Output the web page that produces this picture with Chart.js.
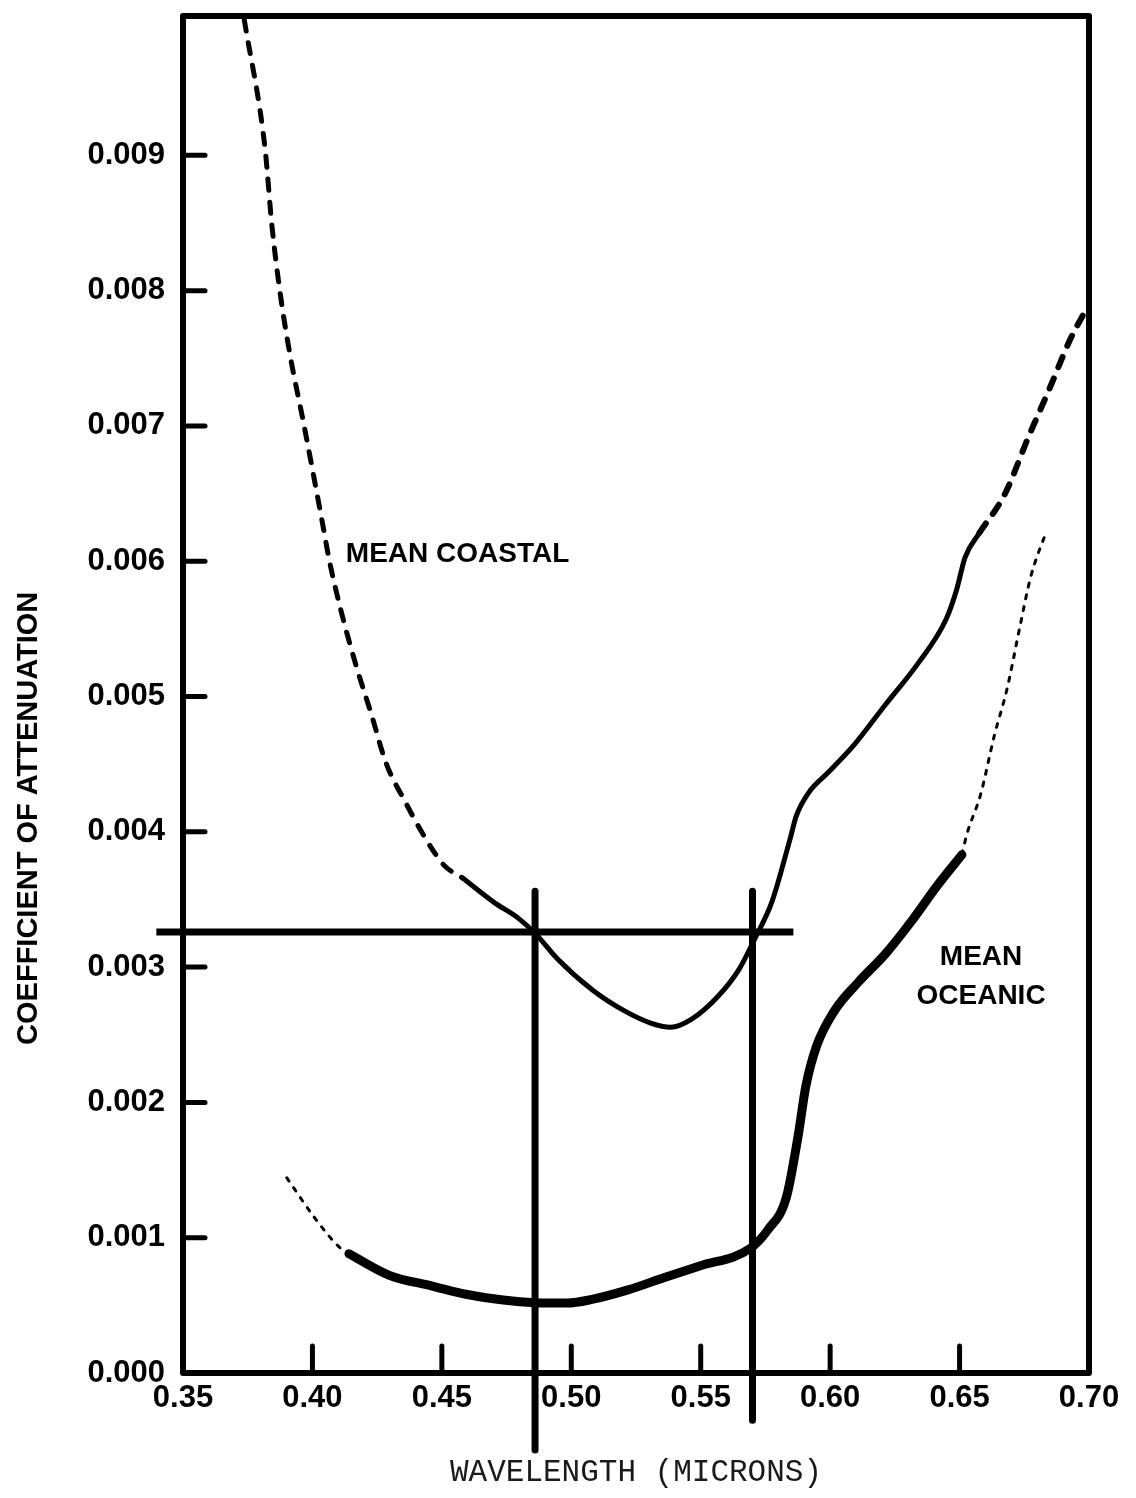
<!DOCTYPE html>
<html>
<head>
<meta charset="utf-8">
<script src="https://cdn.jsdelivr.net/npm/chart.js@4.4.1/dist/chart.umd.min.js"></script>
<style>
html,body{margin:0;padding:0;background:#ffffff;}
canvas{display:block;}
</style>
</head>
<body>
<canvas id="c" width="1136" height="1498"></canvas>
<script>
// ---- axis ticks and texts ----
const xTicks = [0.35, 0.40, 0.45, 0.50, 0.55, 0.60, 0.65, 0.70];
const xTickLabels = ['0.35', '0.40', '0.45', '0.50', '0.55', '0.60', '0.65', '0.70'];
const yTicks = [0.000, 0.001, 0.002, 0.003, 0.004, 0.005, 0.006, 0.007, 0.008, 0.009];
const yTickLabels = ['0.000', '0.001', '0.002', '0.003', '0.004', '0.005', '0.006', '0.007', '0.008', '0.009'];
const xTitle = 'WAVELENGTH (MICRONS)';
const yTitle = 'COEFFICIENT OF ATTENUATION';
const coastalLabel = 'MEAN COASTAL';
const oceanicLabel = ['MEAN', 'OCEANIC'];

// ---- Mean coastal curve ----
const coastalDashX1 = [0.3737, 0.3817, 0.3843, 0.3874, 0.3913, 0.3967, 0.4039, 0.4067, 0.4111, 0.4170, 0.4229, 0.4284, 0.4359, 0.4434, 0.4510, 0.4579];
const coastalDashY1 = [0.01000, 0.00905, 0.00849, 0.00800, 0.00753, 0.00701, 0.00628, 0.00599, 0.00563, 0.00522, 0.00486, 0.00451, 0.00422, 0.00396, 0.00375, 0.00366];
const coastalSolidX = [0.4579, 0.4704, 0.4795, 0.4864, 0.4946, 0.5083, 0.5204, 0.5307, 0.5384, 0.5462, 0.5568, 0.5648, 0.5711, 0.5775, 0.5844, 0.5869, 0.5918, 0.5992, 0.6095, 0.6211, 0.6341, 0.6448, 0.6488, 0.6521, 0.6577];
const coastalSolidY = [0.00366, 0.003475, 0.003362, 0.003242, 0.003062, 0.002829, 0.002678, 0.002586, 0.002555, 0.002611, 0.002786, 0.002983, 0.003218, 0.003482, 0.003939, 0.004116, 0.004292, 0.004438, 0.004649, 0.004934, 0.005249, 0.005571, 0.005785, 0.006027, 0.006211];
const coastalDashX2 = [0.6577, 0.6675, 0.6767, 0.6848, 0.6928, 0.6987];
const coastalDashY2 = [0.006211, 0.006497, 0.006923, 0.007278, 0.007642, 0.007855];

// ---- Mean oceanic curve ----
const oceanicDashX1 = [0.3901, 0.4007, 0.4106, 0.4141];
const oceanicDashY1 = [0.001443, 0.001151, 0.000926, 0.000881];
const oceanicSolidX = [0.4141, 0.4297, 0.4463, 0.4598, 0.4737, 0.4860, 0.4984, 0.5080, 0.5219, 0.5360, 0.5496, 0.5690, 0.5759, 0.5831, 0.5876, 0.5906, 0.5947, 0.6015, 0.6109, 0.6215, 0.6318, 0.6412, 0.6509];
const oceanicSolidY = [0.000881, 0.000722, 0.000643, 0.000580, 0.000539, 0.000520, 0.000517, 0.000544, 0.000614, 0.000706, 0.000791, 0.000919, 0.001057, 0.001299, 0.001749, 0.002118, 0.002413, 0.002672, 0.002889, 0.003101, 0.003349, 0.003598, 0.003831];
const oceanicDashX2 = [0.6509, 0.6529, 0.6581, 0.6634, 0.6684, 0.6734, 0.6775, 0.6836];
const oceanicDashY2 = [0.003831, 0.003987, 0.004274, 0.004709, 0.005061, 0.005525, 0.005886, 0.006225];

// ---- reference (crossing) lines ----
const refLineX = [0.3397, 0.5858];
const refLineY = [0.00326, 0.00326];
const cross1X = [0.4860, 0.4860];
const cross1Y = [0.00356, -0.00057];
const cross2X = [0.5700, 0.5700];
const cross2Y = [0.00356, -0.00035];

// ---- label anchors (data units) ----
const coastalLabelAt = [0.4129, 0.00605];
const oceanicLabelX = 0.6583;
const oceanicLabelY = [0.003075, 0.002787];

const pts = (xs, ys) => xs.map((v, i) => ({ x: v, y: ys[i] }));
const LABEL_FONT = '"Liberation Sans", Arial, Helvetica, sans-serif';

function curve(xs, ys, width, dash, extra) {
  return Object.assign({
    data: pts(xs, ys),
    borderColor: '#000',
    borderWidth: width,
    borderDash: dash || [],
    borderCapStyle: 'round',
    borderJoinStyle: 'round',
    cubicInterpolationMode: 'monotone',
    pointRadius: 0,
    fill: false
  }, extra || {});
}

const decor = {
  id: 'decor',
  beforeDatasetsDraw(chart) {
    const { ctx, chartArea: a, scales: { x, y } } = chart;
    ctx.save();
    ctx.strokeStyle = '#000';
    ctx.lineJoin = 'round';
    ctx.lineWidth = 6;
    ctx.strokeRect(a.left, a.top, a.right - a.left, a.bottom - a.top);
    ctx.lineCap = 'round';
    ctx.lineWidth = 5;
    yTicks.forEach(v => {
      if (v <= 0) return;
      const py = y.getPixelForValue(v);
      ctx.beginPath(); ctx.moveTo(a.left, py); ctx.lineTo(a.left + 22, py); ctx.stroke();
    });
    xTicks.forEach(v => {
      if (v <= 0.351 || v >= 0.699) return;
      const px = x.getPixelForValue(v);
      ctx.beginPath(); ctx.moveTo(px, a.bottom); ctx.lineTo(px, a.bottom - 27); ctx.stroke();
    });
    ctx.restore();
  },
  afterDatasetsDraw(chart) {
    const { ctx, scales: { x, y } } = chart;
    ctx.save();
    ctx.fillStyle = '#000';
    ctx.textBaseline = 'middle';
    ctx.font = 'bold 28px ' + LABEL_FONT;
    ctx.textAlign = 'left';
    ctx.fillText(coastalLabel, x.getPixelForValue(coastalLabelAt[0]), y.getPixelForValue(coastalLabelAt[1]));
    ctx.textAlign = 'center';
    oceanicLabel.forEach((t, i) => {
      ctx.fillText(t, x.getPixelForValue(oceanicLabelX), y.getPixelForValue(oceanicLabelY[i]));
    });
    // rotated y-axis title
    ctx.font = 'bold 29px ' + LABEL_FONT;
    ctx.translate(29, y.getPixelForValue(0.0041));
    ctx.rotate(-Math.PI / 2);
    ctx.fillText(yTitle, 0, 0);
    ctx.restore();
  }
};

new Chart(document.getElementById('c'), {
  type: 'line',
  data: {
    datasets: [
      curve(coastalDashX1, coastalDashY1, 5, [11, 12]),
      curve(coastalSolidX, coastalSolidY, 5),
      curve(coastalDashX2, coastalDashY2, 6, [11, 12]),
      curve(oceanicDashX1, oceanicDashY1, 3, [4, 8]),
      curve(oceanicSolidX, oceanicSolidY, 9),
      curve(oceanicDashX2, oceanicDashY2, 3, [4, 8]),
      curve(refLineX, refLineY, 7, null, { clip: false, cubicInterpolationMode: 'default', tension: 0, borderCapStyle: 'butt' }),
      curve(cross1X, cross1Y, 7, null, { clip: false, cubicInterpolationMode: 'default', tension: 0, borderCapStyle: 'butt' }),
      curve(cross2X, cross2Y, 7, null, { clip: false, cubicInterpolationMode: 'default', tension: 0, borderCapStyle: 'butt' })
    ]
  },
  options: {
    responsive: false,
    animation: false,
    devicePixelRatio: 1,
    layout: { padding: { top: 16, right: 47, left: 0, bottom: 0 } },
    plugins: { legend: { display: false }, tooltip: { enabled: false } },
    scales: {
      x: {
        type: 'linear',
        min: 0.35,
        max: 0.70,
        afterFit: s => { s.height = 125; s.paddingLeft = 0; s.paddingRight = 0; },
        afterBuildTicks: s => { s.ticks = xTicks.map(v => ({ value: v })); },
        grid: { display: false, drawTicks: false },
        border: { display: false },
        ticks: {
          autoSkip: false, maxRotation: 0, minRotation: 0, padding: 7, color: '#000',
          font: { family: LABEL_FONT, size: 31, weight: 'bold' },
          callback: v => xTickLabels[xTicks.findIndex(t => Math.abs(t - v) < 1e-9)]
        },
        title: {
          display: true, text: xTitle, color: '#1a1a1a',
          font: { family: '"Liberation Mono", "Courier New", monospace', size: 31, weight: 'normal' },
          padding: { top: 0, bottom: 7 }
        }
      },
      y: {
        type: 'linear',
        min: 0,
        max: 0.01003,
        afterFit: s => { s.width = 183; s.paddingTop = 0; s.paddingBottom = 0; },
        afterBuildTicks: s => { s.ticks = yTicks.map(v => ({ value: v })); },
        grid: { display: false, drawTicks: false },
        border: { display: false },
        ticks: {
          autoSkip: false, padding: 18, color: '#000',
          font: { family: LABEL_FONT, size: 31, weight: 'bold' },
          callback: v => yTickLabels[yTicks.findIndex(t => Math.abs(t - v) < 1e-9)]
        }
      }
    }
  },
  plugins: [decor]
});
</script>
</body>
</html>
